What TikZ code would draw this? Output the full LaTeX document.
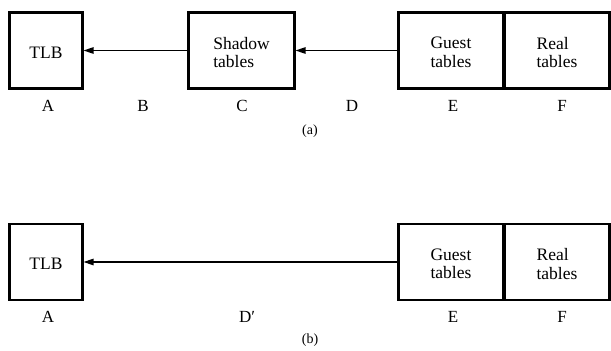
\documentclass[tikz,border=0pt]{standalone}
\usepackage{fontspec}
\setmainfont{Liberation Serif}
\newfontfamily\figserif{Liberation Serif}
\usetikzlibrary{arrows.meta}
\begin{document}
\begin{tikzpicture}[x=1pt,y=-1pt,
  blk/.style={draw,line width=2.2pt,inner sep=0pt,minimum height=76pt,align=left,text depth=0pt},
  blktext/.style={inner sep=0pt,align=left,font=\figserif\fontsize{17.5}{18.5}\selectfont},
  lbl/.style={font=\figserif\fontsize{17}{18}\selectfont,inner sep=0pt},
  figcap/.style={font=\figserif\fontsize{14}{15}\selectfont,inner sep=0pt},
  conn/.style={line width=1.4pt,-{Triangle[length=10pt,width=6.5pt]}}]
\useasboundingbox (0,0) rectangle (611,351);
% (a)
\node[blk,minimum width=73pt] (tlbA) at (46,50.5) {};
\node[blk,minimum width=106pt] (shadow) at (241.5,50.5) {};
\node[blk,minimum width=105pt] (guestA) at (451,50.5) {};
\node[blk,minimum width=105pt] (realA) at (557,50.5) {};
\node[blktext] (tA) at ([yshift=-2pt]tlbA.center) {TLB};
\node[blktext] (tS) at ([yshift=-2pt]shadow.center) {Shadow\\tables};
\node[blktext] (tGA) at ([yshift=-2pt]guestA.center) {Guest\\tables};
\node[blktext] (tRA) at ([yshift=-2pt]realA.center) {Real\\tables};
\draw[conn] (shadow.west) -- (tlbA.east);
\draw[conn] (guestA.west) -- (shadow.east);
\node[lbl] (lA) at (48,106) {A};
\node[lbl] (lB) at (143,106) {B};
\node[lbl] (lC) at (242,106) {C};
\node[lbl] (lD) at (352,106) {D};
\node[lbl] (lE) at (453,106) {E};
\node[lbl] (lF) at (562,106) {F};
\node[figcap] (capA) at (310,131) {(a)};
% (b)
\node[blk,minimum width=73pt] (tlbB) at (46,262) {};
\node[blk,minimum width=105pt] (guestB) at (451,262) {};
\node[blk,minimum width=105pt] (realB) at (557,262) {};
\node[blktext] (tB) at ([yshift=-2pt]tlbB.center) {TLB};
\node[blktext] (tGB) at ([yshift=-2pt]guestB.center) {Guest\\tables};
\node[blktext] (tRB) at ([yshift=-2pt]realB.center) {Real\\tables};
\draw[conn] (guestB.west) -- (tlbB.east);
\node[lbl] (lA2) at (48,317) {A};
\node[lbl] (lD2) at (247,317) {D′};
\node[lbl] (lE2) at (453,317) {E};
\node[lbl] (lF2) at (562,317) {F};
\node[figcap] (capB) at (310,340) {(b)};
\end{tikzpicture}
\end{document}
